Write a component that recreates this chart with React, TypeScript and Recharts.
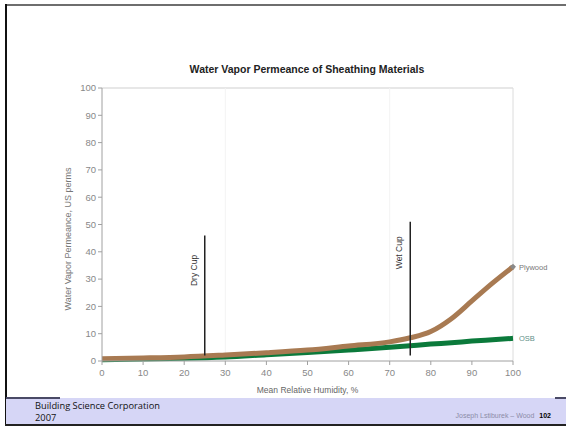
import React from 'react';
import {
  LineChart,
  Line,
  XAxis,
  YAxis,
  ReferenceLine,
  Label,
} from 'recharts';

// values
const humidity = [0, 10, 20, 30, 40, 50, 60, 70, 75, 80, 85, 90, 95, 100];
const plywoodPerms = [0.8, 1.1, 1.5, 2.2, 3, 4, 5.5, 7, 8.5, 10.8, 15.5, 22, 28.5, 34.5];
const osbPerms = [0.5, 0.7, 1, 1.5, 2.3, 3.1, 4, 5, 5.6, 6.2, 6.7, 7.3, 7.8, 8.3];
const axisTicks = [0, 10, 20, 30, 40, 50, 60, 70, 80, 90, 100];
const dryCup = { x: 25, from: 2, to: 46 };
const wetCup = { x: 75, from: 2, to: 51 };

const data = humidity.map((h, i) => ({
  rh: h,
  plywood: plywoodPerms[i],
  osb: osbPerms[i],
}));

const last = data.length - 1;
const FONT = '"Liberation Sans", Arial, sans-serif';

const cupLabel = (text: string, shift: number) => (props: any) => {
  const vb = props.viewBox || {};
  const x = vb.x - 8;
  const y = vb.y + shift;
  return (
    <text
      transform={`translate(${x},${y}) rotate(-90)`}
      textAnchor="middle"
      fontSize={8.5}
      fontFamily={FONT}
      fill="#333"
    >
      {text}
    </text>
  );
};

const endLabel = (text: string, color: string) => (props: any) => {
  if (props.index !== last) return <g />;
  return (
    <text x={props.x + 6} y={props.y + 3} fontSize={7.5} fontFamily={FONT} fill={color}>
      {text}
    </text>
  );
};

const plywoodDot = (props: any) => {
  if (props.index !== last) return <g key={props.index} />;
  const { cx, cy } = props;
  return (
    <path
      key={props.index}
      d={`M${cx},${cy - 3}L${cx + 3},${cy}L${cx},${cy + 3}L${cx - 3},${cy}Z`}
      fill="#8a8a8a"
    />
  );
};

export default function App() {
  return (
    <div
      style={{
        position: 'fixed',
        left: 0,
        top: 0,
        width: 566,
        height: 426,
        background: '#fff',
        overflow: 'hidden',
      }}
    >
      {/* slide frame */}
      <div style={{ position: 'absolute', left: 6, top: 4, width: 560, height: 2, background: '#6e6e6e' }} />
      <div style={{ position: 'absolute', left: 5, top: 4, width: 1.5, height: 421, background: '#111' }} />

      <div
        style={{
          position: 'absolute',
          left: 0,
          top: 63,
          width: 614,
          textAlign: 'center',
          fontFamily: FONT,
          fontWeight: 'bold',
          fontSize: 10.5,
          color: '#222',
        }}
      >
        Water Vapor Permeance of Sheathing Materials
      </div>

      <LineChart
        width={566}
        height={426}
        data={data}
        margin={{ top: 88, right: 53, bottom: 35, left: 72 }}
        style={{ position: 'absolute', left: 0, top: 0 }}
      >
        <XAxis
          dataKey="rh"
          type="number"
          domain={[0, 100]}
          ticks={axisTicks}
          height={30}
          stroke="#a0a0a0"
          tickSize={4}
          tick={{ fill: '#888', fontSize: 9.5, fontFamily: FONT, dy: 2 }}
        >
          <Label
            value="Mean Relative Humidity, %"
            position="insideBottom"
            offset={-2}
            fill="#666"
            fontSize={8.5}
            fontFamily={FONT}
          />
        </XAxis>
        <YAxis
          type="number"
          domain={[0, 100]}
          ticks={axisTicks}
          width={30}
          stroke="#a0a0a0"
          tickSize={4}
          tick={{ fill: '#888', fontSize: 9.5, fontFamily: FONT }}
        >
          <Label
            content={() => (
              <text
                transform="translate(71,239) rotate(-90)"
                textAnchor="middle"
                fill="#777"
                fontSize={9}
                fontFamily={FONT}
              >
                Water Vapor Permeance, US perms
              </text>
            )}
          />
        </YAxis>

        <ReferenceLine y={100} stroke="#cfcfcf" />
        <ReferenceLine x={100} stroke="#dcdcdc" />
        <ReferenceLine x={30} stroke="#f3f3f3" />
        <ReferenceLine x={70} stroke="#f3f3f3" />

        <Line
          type="monotone"
          dataKey="osb"
          stroke="#0b7a3b"
          strokeWidth={5}
          dot={false}
          label={endLabel('OSB', '#5f8f88')}
          isAnimationActive={false}
        />
        <Line
          type="monotone"
          dataKey="plywood"
          stroke="#a87a52"
          strokeWidth={5}
          dot={plywoodDot}
          label={endLabel('Plywood', '#777')}
          isAnimationActive={false}
        />

        <ReferenceLine
          segment={[
            { x: dryCup.x, y: dryCup.from },
            { x: dryCup.x, y: dryCup.to },
          ]}
          stroke="#222"
          strokeWidth={1.5}
          label={cupLabel('Dry Cup', 35)}
        />
        <ReferenceLine
          segment={[
            { x: wetCup.x, y: wetCup.from },
            { x: wetCup.x, y: wetCup.to },
          ]}
          stroke="#222"
          strokeWidth={1.5}
          label={cupLabel('Wet Cup', 31)}
        />
      </LineChart>

      {/* footer band */}
      <div style={{ position: 'absolute', left: 6, top: 398, width: 560, height: 26, background: '#d6d6f6' }} />
      <div style={{ position: 'absolute', left: 6, top: 397, width: 54, height: 1.5, background: '#4a4a66' }} />
      <div style={{ position: 'absolute', left: 555, top: 397, width: 11, height: 1.5, background: '#4a4a66' }} />
      <div style={{ position: 'absolute', left: 5, top: 424, width: 561, height: 1.5, background: '#222' }} />
      <div
        style={{
          position: 'absolute',
          left: 35,
          top: 400,
          fontFamily: '"Open Sans", sans-serif',
          fontSize: 9.3,
          lineHeight: '12px',
          color: '#111',
        }}
      >
        Building Science Corporation
        <br />
        2007
      </div>
      <div
        style={{
          position: 'absolute',
          right: 15,
          top: 412,
          fontFamily: FONT,
          fontSize: 7,
          color: '#8c8ca8',
          whiteSpace: 'nowrap',
        }}
      >
        Joseph Lstiburek – Wood{' '}
        <span style={{ color: '#000', fontWeight: 'bold', marginLeft: 3 }}>102</span>
      </div>
    </div>
  );
}
